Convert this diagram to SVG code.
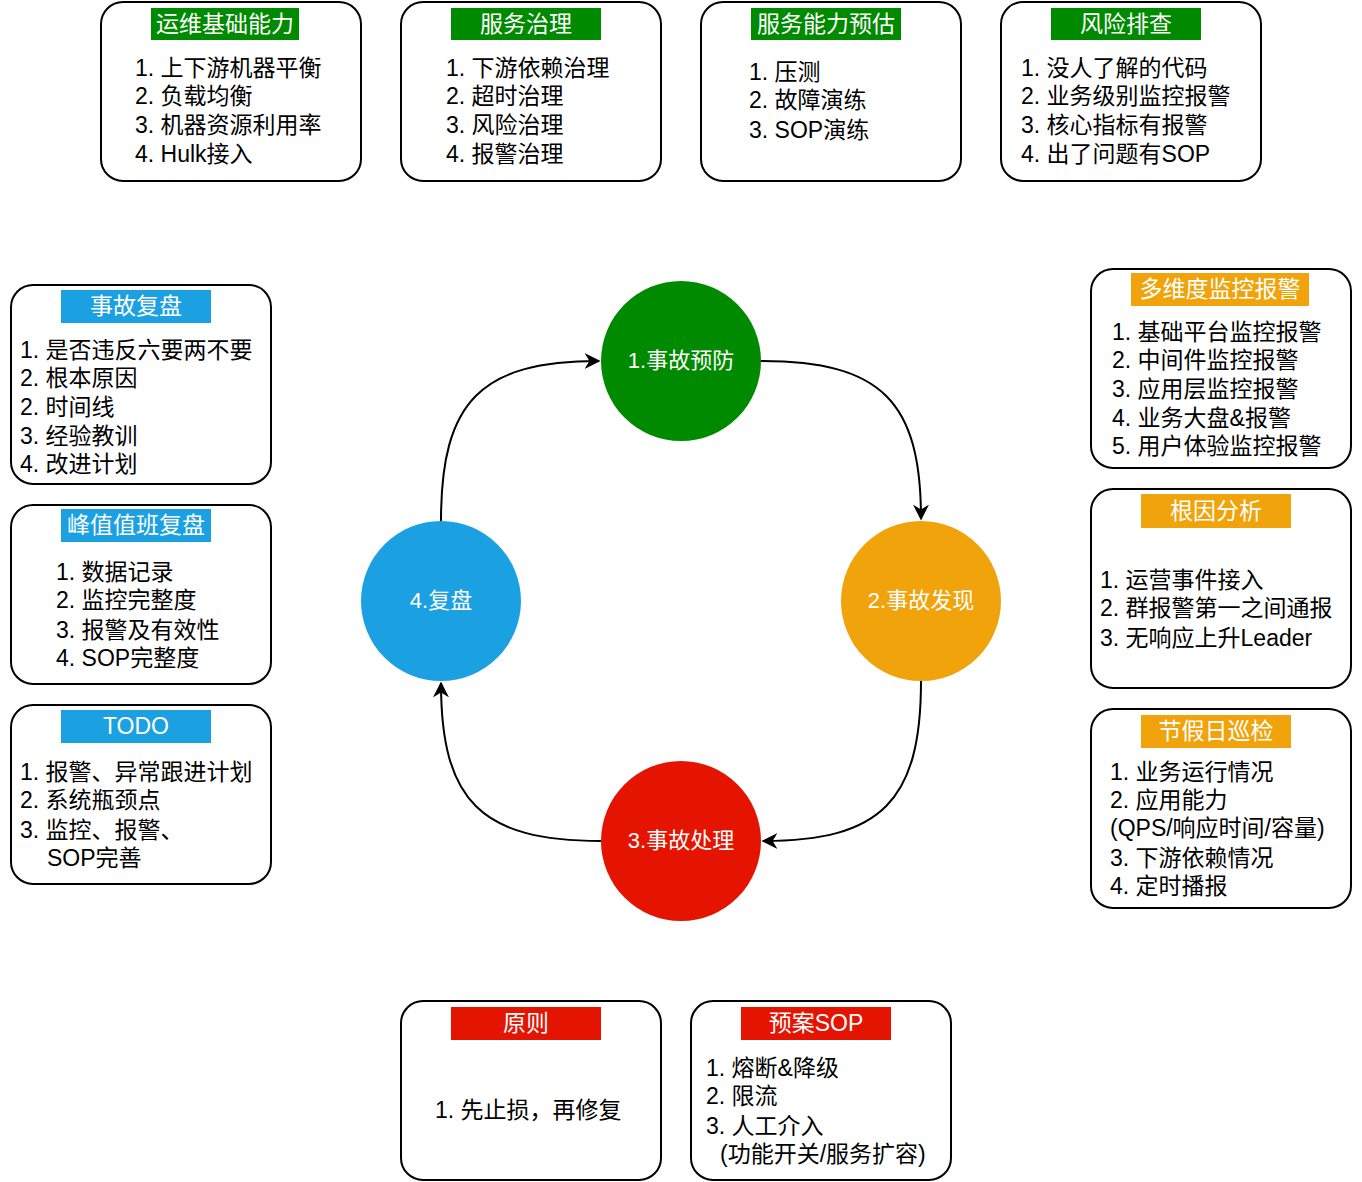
<svg xmlns="http://www.w3.org/2000/svg" width="1362" height="1182" viewBox="0 0 1362 1182">
<style>
.box{fill:#fff;stroke:#000;stroke-width:2}
.t{font-family:"Liberation Sans","Noto Sans CJK SC",sans-serif;font-size:23px;fill:#000}
.h{font-family:"Liberation Sans","Noto Sans CJK SC",sans-serif;font-size:23px;fill:#fff;text-anchor:middle}
.c{font-family:"Liberation Sans","Noto Sans CJK SC",sans-serif;font-size:22px;fill:#fff;text-anchor:middle}
.ln{fill:none;stroke:#000;stroke-width:2;marker-end:url(#a)}
</style>
<defs><marker id="a" viewBox="0 0 10 10" refX="9" refY="5" markerWidth="16" markerHeight="16" orient="auto" markerUnits="userSpaceOnUse"><path d="M0,0 L10,5 L0,10 L3,5 Z" fill="#000"/></marker></defs>
<rect width="1362" height="1182" fill="#fff"/>
<g id="connectors">
<path class="ln" d="M761,361 C881,361 921,401 921,519"/>
<path class="ln" d="M921,681 C921,801 881,841 763,841"/>
<path class="ln" d="M601,841 C481,841 441,801 441,683"/>
<path class="ln" d="M441,521 C441,401 481,361 599,361"/>
</g>
<g id="n1"><circle cx="681" cy="361" r="80" fill="#008a00"/><text class="c" x="681" y="368">1.事故预防</text></g>
<g id="n2"><circle cx="921" cy="601" r="80" fill="#f0a30a"/><text class="c" x="921" y="608">2.事故发现</text></g>
<g id="n3"><circle cx="681" cy="841" r="80" fill="#e51400"/><text class="c" x="681" y="848">3.事故处理</text></g>
<g id="n4"><circle cx="441" cy="601" r="80" fill="#1ba1e2"/><text class="c" x="441" y="608">4.复盘</text></g>

<g id="b1"><rect class="box" x="101" y="2" width="260" height="179" rx="22"/><rect x="151" y="8" width="148" height="32" fill="#008a00"/><text class="h" x="225" y="32">运维基础能力</text>
<text class="t" x="135" y="76">1. 上下游机器平衡</text><text class="t" x="135" y="104">2. 负载均衡</text><text class="t" x="135" y="133">3. 机器资源利用率</text><text class="t" x="135" y="162">4. Hulk接入</text></g>
<g id="b2"><rect class="box" x="401" y="2" width="260" height="179" rx="22"/><rect x="451" y="8" width="150" height="32" fill="#008a00"/><text class="h" x="526" y="32">服务治理</text>
<text class="t" x="446" y="76">1. 下游依赖治理</text><text class="t" x="446" y="104">2. 超时治理</text><text class="t" x="446" y="133">3. 风险治理</text><text class="t" x="446" y="162">4. 报警治理</text></g>
<g id="b3"><rect class="box" x="701" y="2" width="260" height="179" rx="22"/><rect x="751" y="8" width="150" height="32" fill="#008a00"/><text class="h" x="826" y="32">服务能力预估</text>
<text class="t" x="749" y="80">1. 压测</text><text class="t" x="749" y="108">2. 故障演练</text><text class="t" x="749" y="138">3. SOP演练</text></g>
<g id="b4"><rect class="box" x="1001" y="2" width="260" height="179" rx="22"/><rect x="1051" y="8" width="150" height="32" fill="#008a00"/><text class="h" x="1126" y="32">风险排查</text>
<text class="t" x="1021" y="76">1. 没人了解的代码</text><text class="t" x="1021" y="104">2. 业务级别监控报警</text><text class="t" x="1021" y="133">3. 核心指标有报警</text><text class="t" x="1021" y="162">4. 出了问题有SOP</text></g>

<g id="l1"><rect class="box" x="11" y="285" width="260" height="199" rx="22"/><rect x="61" y="290" width="150" height="33" fill="#1ba1e2"/><text class="h" x="136" y="314">事故复盘</text>
<text class="t" x="20" y="358">1. 是否违反六要两不要</text><text class="t" x="20" y="386">2. 根本原因</text><text class="t" x="20" y="415">2. 时间线</text><text class="t" x="20" y="444">3. 经验教训</text><text class="t" x="20" y="472">4. 改进计划</text></g>
<g id="l2"><rect class="box" x="11" y="505" width="260" height="179" rx="22"/><rect x="61" y="509" width="150" height="33" fill="#1ba1e2"/><text class="h" x="136" y="533">峰值值班复盘</text>
<text class="t" x="56" y="580">1. 数据记录</text><text class="t" x="56" y="608">2. 监控完整度</text><text class="t" x="56" y="638">3. 报警及有效性</text><text class="t" x="56" y="666">4. SOP完整度</text></g>
<g id="l3"><rect class="box" x="11" y="705" width="260" height="179" rx="22"/><rect x="61" y="710" width="150" height="33" fill="#1ba1e2"/><text class="h" x="136" y="734">TODO</text>
<text class="t" x="20" y="780">1. 报警、异常跟进计划</text><text class="t" x="20" y="808">2. 系统瓶颈点</text><text class="t" x="20" y="838">3. 监控、报警、</text><text class="t" x="47" y="866">SOP完善</text></g>

<g id="r1"><rect class="box" x="1091" y="269" width="260" height="199" rx="22"/><rect x="1131" y="273" width="178" height="33" fill="#f0a30a"/><text class="h" x="1220" y="297">多维度监控报警</text>
<text class="t" x="1112" y="340">1. 基础平台监控报警</text><text class="t" x="1112" y="368">2. 中间件监控报警</text><text class="t" x="1112" y="397">3. 应用层监控报警</text><text class="t" x="1112" y="426">4. 业务大盘&amp;报警</text><text class="t" x="1112" y="454">5. 用户体验监控报警</text></g>
<g id="r2"><rect class="box" x="1091" y="489" width="260" height="199" rx="22"/><rect x="1141" y="494" width="150" height="34" fill="#f0a30a"/><text class="h" x="1216" y="519">根因分析</text>
<text class="t" x="1100" y="588">1. 运营事件接入</text><text class="t" x="1100" y="616">2. 群报警第一之间通报</text><text class="t" x="1100" y="646">3. 无响应上升Leader</text></g>
<g id="r3"><rect class="box" x="1091" y="709" width="260" height="199" rx="22"/><rect x="1141" y="715" width="150" height="33" fill="#f0a30a"/><text class="h" x="1216" y="739">节假日巡检</text>
<text class="t" x="1110" y="780">1. 业务运行情况</text><text class="t" x="1110" y="808">2. 应用能力</text><text class="t" x="1110" y="836">(QPS/响应时间/容量)</text><text class="t" x="1110" y="866">3. 下游依赖情况</text><text class="t" x="1110" y="894">4. 定时播报</text></g>

<g id="d1"><rect class="box" x="401" y="1001" width="260" height="179" rx="22"/><rect x="451" y="1007" width="150" height="33" fill="#e51400"/><text class="h" x="526" y="1031">原则</text>
<text class="t" x="435" y="1118">1. 先止损，再修复</text></g>
<g id="d2"><rect class="box" x="691" y="1001" width="260" height="179" rx="22"/><rect x="741" y="1007" width="150" height="33" fill="#e51400"/><text class="h" x="816" y="1031">预案SOP</text>
<text class="t" x="706" y="1076">1. 熔断&amp;降级</text><text class="t" x="706" y="1104">2. 限流</text><text class="t" x="706" y="1134">3. 人工介入</text><text class="t" x="720" y="1162">(功能开关/服务扩容)</text></g>
</svg>
